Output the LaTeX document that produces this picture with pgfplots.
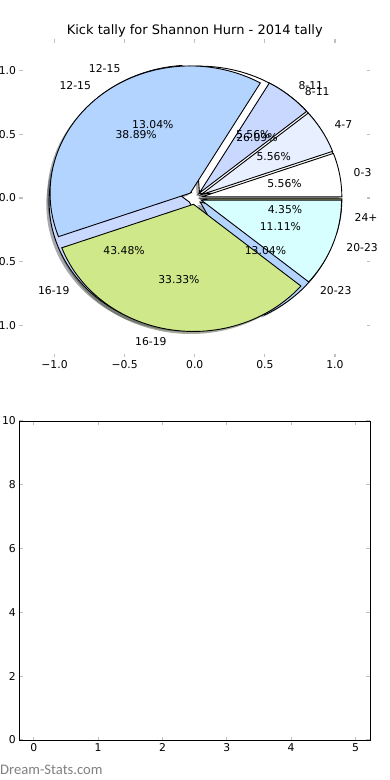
\documentclass[border=0pt]{standalone}
\usepackage{pgfplots}
\pgfplotsset{compat=1.18}
\usepackage{pgfplotstable}
\usepackage{fontspec}
\setmainfont{DejaVu Sans}
\newfontfamily\wmfont{Carlito}
\definecolor{c0}{HTML}{FFFFFF}
\definecolor{c1}{HTML}{E8F0FF}
\definecolor{c2}{HTML}{C8D8FF}
\definecolor{c3}{HTML}{B3D4FF}
\definecolor{c4}{HTML}{CFE98A}
\definecolor{c5}{HTML}{D8FFFF}
\newcommand\tfont{\fontsize{10.8}{12}\selectfont}

% pie 1: 18 games
\pgfplotstableread{
label value color
0-3 1 c0
4-7 1 c1
8-11 1 c2
12-15 7 c3
16-19 6 c4
20-23 2 c5
}\pieA
% pie 2: 23 games
\pgfplotstableread{
label value color
8-11 6 c0
12-15 3 c1
16-19 10 c2
20-23 3 c3
24+ 1 c4
}\pieB

% #1 table, #2 total, #3 mode (0 shadow, 1 wedge, 2 text), #4 explode
\newcommand\piepart[4]{%
  \pgfplotstablegetrowsof{#1}%
  \pgfmathtruncatemacro\nrows{\pgfplotsretval-1}%
  \xdef\cumangle{0}%
  \foreach \i in {0,...,\nrows}{%
    \pgfplotstablegetelem{\i}{value}\of{#1}\let\val\pgfplotsretval
    \pgfplotstablegetelem{\i}{color}\of{#1}\let\col\pgfplotsretval
    \pgfplotstablegetelem{\i}{label}\of{#1}\let\lab\pgfplotsretval
    \pgfmathsetmacro\angA{\cumangle}%
    \pgfmathsetmacro\angB{\cumangle+360*\val/#2}%
    \pgfmathsetmacro\angM{(\angA+\angB)/2}%
    \pgfmathsetmacro\ex{#4*cos(\angM)}%
    \pgfmathsetmacro\ey{#4*sin(\angM)}%
    \pgfmathtruncatemacro\ns{max(4,(\angB-\angA)/2)}%
    \ifcase#3
      \fill[fill=\col!30!black, opacity=0.45] ({\ex-0.02},{\ey-0.02}) -- plot[domain=\angA:\angB, samples=\ns, variable=\t] ({\ex-0.02+cos(\t)},{\ey-0.02+sin(\t)}) -- cycle;
    \or
      \filldraw[fill=\col, draw=black, line width=0.9pt, line join=miter] (\ex,\ey) -- plot[domain=\angA:\angB, samples=\ns, variable=\t] ({\ex+cos(\t)},{\ey+sin(\t)}) -- cycle;
    \or
      \pgfmathsetmacro\lx{(#4+1.1)*cos(\angM)}%
      \pgfmathsetmacro\ly{(#4+1.1)*sin(\angM)}%
      \pgfmathsetmacro\px{(#4+0.6)*cos(\angM)}%
      \pgfmathsetmacro\py{(#4+0.6)*sin(\angM)}%
      \pgfmathsetmacro\pc{100*\val/#2}%
      \pgfmathtruncatemacro\isright{\lx>0}%
      \ifnum\isright=1 \def\anc{west}\else\def\anc{east}\fi
      \node[anchor=\anc, inner sep=0pt, font=\tfont] at (\lx,\ly) {\lab};
      \node[inner sep=0pt, font=\tfont] at (\px,\py) {\pgfmathprintnumber[fixed,precision=2,fixed zerofill,assume math mode=true]{\pc}\%};
    \fi
    \xdef\cumangle{\angB}%
  }%
}

\begin{document}
\begin{tikzpicture}
\useasboundingbox (0pt,0pt) rectangle (390pt,-780pt);
\fill[white] (0pt,0pt) rectangle (390pt,-780pt);
\begin{axis}[
  at={(19.5pt,-357pt)}, anchor=south west,
  scale only axis, width=350.5pt, height=318pt,
  xmin=-1.25, xmax=1.25, ymin=-1.25, ymax=1.25,
  axis line style={draw=none},
  clip=false,
  xtick={-1,-0.5,0,0.5,1}, xticklabels={−1.0,−0.5,0.0,0.5,1.0},
  ytick={-1,-0.5,0,0.5,1}, yticklabels={−1.0,−0.5,0.0,0.5,1.0},
  tick align=inside, major tick length=3.5pt,
  tick style={draw=gray!50, line width=1.2pt},
  tick label style={font=\tfont},
]
\pgfplotsextra{%
  \piepart{\pieB}{23}{0}{0.05}%
  \piepart{\pieA}{18}{0}{0.05}%
  \piepart{\pieB}{23}{1}{0.05}%
  \piepart{\pieA}{18}{1}{0.05}%
  \piepart{\pieB}{23}{2}{0.05}%
  \piepart{\pieA}{18}{2}{0.05}%
}
\end{axis}
\node[anchor=base, inner sep=0pt, font=\fontsize{13}{15}\selectfont] at (194.75pt,-34.3pt) {Kick tally for Shannon Hurn - 2014 tally};
\begin{axis}[
  at={(19.3pt,-740pt)}, anchor=south west,
  scale only axis, width=350.7pt, height=319pt,
  xmin=-0.225, xmax=5.225, ymin=0, ymax=10,
  xtick={0,1,2,3,4,5}, ytick={0,2,4,6,8,10},
  axis line style={draw=black, line width=0.9pt},
  tick align=inside, major tick length=3.5pt,
  tick style={draw=gray!50, line width=1.2pt},
  tick label style={font=\tfont},
  /pgf/number format/assume math mode=true,
]
\end{axis}
\node[anchor=west, inner sep=0pt, text=gray, font=\wmfont\fontsize{14.6}{16}\selectfont] at (0pt,-770pt) {Dream-Stats.com};
\end{tikzpicture}
\end{document}
